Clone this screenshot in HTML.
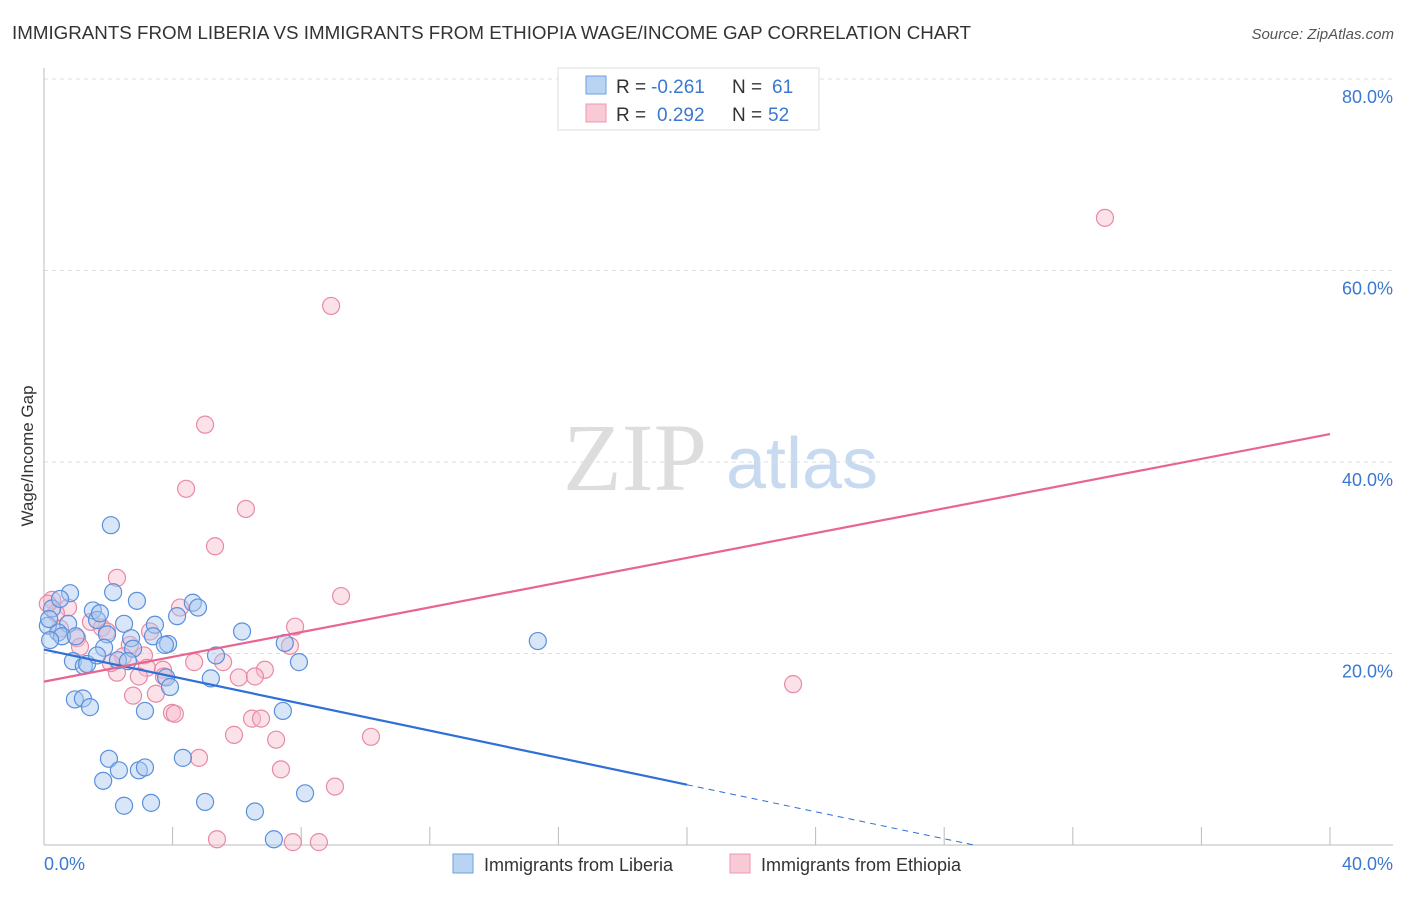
<!DOCTYPE html>
<html><head><meta charset="utf-8"><style>
body{margin:0;background:#fff;font-family:"Liberation Sans",sans-serif}
</style></head><body>
<svg width="1406" height="892" xmlns="http://www.w3.org/2000/svg">
<text x="12" y="39" font-size="18" fill="#333" textLength="959" lengthAdjust="spacingAndGlyphs">IMMIGRANTS FROM LIBERIA VS IMMIGRANTS FROM ETHIOPIA WAGE/INCOME GAP CORRELATION CHART</text>
<text x="1394" y="39" font-size="15" fill="#555" font-style="italic" text-anchor="end">Source: ZipAtlas.com</text>
<g>
<text x="635" y="490" font-size="96" font-family="Liberation Serif,serif" fill="#ddd" text-anchor="middle">ZIP</text>
<text x="802" y="488" font-size="72" fill="#c8daf0" text-anchor="middle">atlas</text>
</g>
<g id="grid"></g>
<line x1="44" y1="68" x2="44" y2="845" stroke="#bbb"/>
<line x1="44" y1="845" x2="1393" y2="845" stroke="#bbb"/>
<text x="33" y="456" font-size="17" fill="#333" text-anchor="middle" transform="rotate(-90 33 456)">Wage/Income Gap</text>
<text x="44" y="870" font-size="18" fill="#3b78d0">0.0%</text>
<text x="1393" y="870" font-size="18" fill="#3b78d0" text-anchor="end">40.0%</text>
<g id="pts"></g>
<g id="lines"></g>
<g>
<rect x="558" y="68" width="261" height="62" fill="#fff" stroke="#ddd"/>
<rect x="586" y="76" width="20" height="18" fill="#b9d3f3" stroke="#6e9fe0"/>
<rect x="586" y="104" width="20" height="18" fill="#f9c9d6" stroke="#ec98b0"/>
<text y="93" font-size="19" fill="#333"><tspan x="616">R =</tspan><tspan x="651" fill="#3b78d0">-0.261</tspan><tspan x="732">N =</tspan><tspan x="772" fill="#3b78d0">61</tspan></text>
<text y="121" font-size="19" fill="#333"><tspan x="616">R =</tspan><tspan x="657" fill="#3b78d0">0.292</tspan><tspan x="732">N =</tspan><tspan x="768" fill="#3b78d0">52</tspan></text>
</g>
<g>
<rect x="453" y="854" width="20" height="19" fill="#b9d3f3" stroke="#6e9fe0"/>
<text x="484" y="871" font-size="18" fill="#333">Immigrants from Liberia</text>
<rect x="730" y="854" width="20" height="19" fill="#f9c9d6" stroke="#ec98b0"/>
<text x="761" y="871" font-size="18" fill="#333">Immigrants from Ethiopia</text>
</g>
</svg>
<script>
const yTicks=[20,40,60,80];
const xTicks=[4,8,12,16,20,24,28,32,36,40];
const liberiaX=[2.08,0.81,2.15,1.52,2.89,4.63,4.79,4.14,0.25,0.12,0.75,1.65,2.49,3.45,0.44,0.56,0.19,0.99,1.96,2.71,3.39,3.86,1.87,2.77,0.9,1.24,1.34,2.3,2.61,1.65,5.35,7.49,6.16,7.93,3.8,3.92,5.19,0.96,1.21,1.43,3.14,7.43,2.02,4.32,2.33,2.95,3.14,1.84,2.49,3.33,5.01,6.56,8.12,7.15,15.36,0.5,1.74,0.16,3.76];
const liberiaY=[33.4,26.3,26.4,24.5,25.5,25.3,24.8,23.9,24.7,22.9,23.1,23.5,23.1,23.0,22.2,21.8,21.4,21.8,22.0,21.6,21.8,21.0,20.6,20.5,19.2,18.7,18.9,19.3,19.2,19.8,19.8,21.1,22.3,19.1,17.5,16.5,17.4,15.2,15.3,14.4,14.0,14.0,9.0,9.1,7.8,7.8,8.1,6.7,4.1,4.4,4.5,3.5,5.4,0.6,21.3,25.7,24.2,23.6,20.9];
const ethiopiaX=[33.0,8.93,5.01,4.42,6.28,5.32,2.27,9.24,0.25,0.75,0.37,4.23,1.46,1.8,1.03,1.96,2.67,3.3,7.65,7.81,2.46,3.11,3.2,2.27,2.95,3.7,3.73,4.67,5.57,6.87,6.06,6.56,2.77,3.48,3.98,4.07,6.47,6.75,5.91,7.22,10.17,4.82,7.37,9.05,23.3,5.38,7.74,8.55,0.12,0.5,1.12,2.08];
const ethiopiaY=[65.5,56.3,43.9,37.2,35.1,31.2,27.9,26.0,25.6,24.8,24.2,24.8,23.3,22.7,21.6,22.3,20.9,22.3,20.8,22.8,19.7,19.8,18.5,18.0,17.6,18.3,17.6,19.1,19.1,18.3,17.5,17.6,15.6,15.8,13.8,13.7,13.2,13.2,11.5,11.0,11.3,9.1,7.9,6.1,16.8,0.6,0.3,0.3,25.2,22.6,20.7,19.0];
const X=v=>44+v*32.15, Y=v=>845-v*9.575;
const NS="http://www.w3.org/2000/svg";
const grid=document.getElementById('grid');
yTicks.forEach(t=>{
 const l=document.createElementNS(NS,'line');
 l.setAttribute('x1',44);l.setAttribute('x2',1393);l.setAttribute('y1',Y(t));l.setAttribute('y2',Y(t));
 l.setAttribute('stroke','#ddd');l.setAttribute('stroke-dasharray','4,4');
 
 
 grid.appendChild(l);
 const tx=document.createElementNS(NS,'text');
 tx.setAttribute('x',1393);tx.setAttribute('y',Y(t)+24);tx.setAttribute('text-anchor','end');
 tx.setAttribute('font-size','18');tx.setAttribute('fill','#3b78d0');tx.textContent=t.toFixed(1)+'%';
 
 
 grid.appendChild(tx);
});
xTicks.forEach(t=>{
 const l=document.createElementNS(NS,'line');
 l.setAttribute('x1',X(t));l.setAttribute('x2',X(t));l.setAttribute('y1',827);l.setAttribute('y2',845);
 l.setAttribute('stroke','#bbb');
 
 
 grid.appendChild(l);
});
const pts=document.getElementById('pts');
function dots(xs,ys,fill,stroke,name){
 xs.forEach((x,i)=>{
  const c=document.createElementNS(NS,'circle');
  c.setAttribute('cx',X(x));c.setAttribute('cy',Y(ys[i]));c.setAttribute('r',8.5);
  c.setAttribute('fill',fill);c.setAttribute('fill-opacity','0.45');c.setAttribute('stroke',stroke);c.setAttribute('stroke-width','1.2');
  
  
  pts.appendChild(c);
 });
}
dots(ethiopiaX,ethiopiaY,'#f7bccd','#e88aa6','ethiopia-point');
dots(liberiaX,liberiaY,'#a9c8f0','#5a90dc','liberia-point');
function fit(xs,ys){const n=xs.length;const mx=xs.reduce((a,b)=>a+b)/n,my=ys.reduce((a,b)=>a+b)/n;
 let sxy=0,sxx=0;xs.forEach((x,i)=>{sxy+=(x-mx)*(ys[i]-my);sxx+=(x-mx)**2});const b=sxy/sxx;return [my-b*mx,b];}
const lines=document.getElementById('lines');
function seg(x1,x2,f,col,dash,name){
 const l=document.createElementNS(NS,'line');
 l.setAttribute('x1',X(x1));l.setAttribute('x2',X(x2));l.setAttribute('y1',Y(f[0]+f[1]*x1));l.setAttribute('y2',Y(f[0]+f[1]*x2));
 l.setAttribute('stroke',col);l.setAttribute('stroke-width',dash?1:2.2);if(dash)l.setAttribute('stroke-dasharray','6,5');
 
 
 lines.appendChild(l);
}
const fl=fit(liberiaX,liberiaY), fe=fit(ethiopiaX,ethiopiaY);
const endL=Math.min(40,-fl[0]/fl[1]);
seg(0,20,fl,'#2f6fd6',false,'liberia-trend-line');
seg(20,endL,fl,'#2f6fd6',true,'liberia-trend-extension');
seg(0,40,fe,'#e8658e',false,'ethiopia-trend-line');
</script>
</body></html>
